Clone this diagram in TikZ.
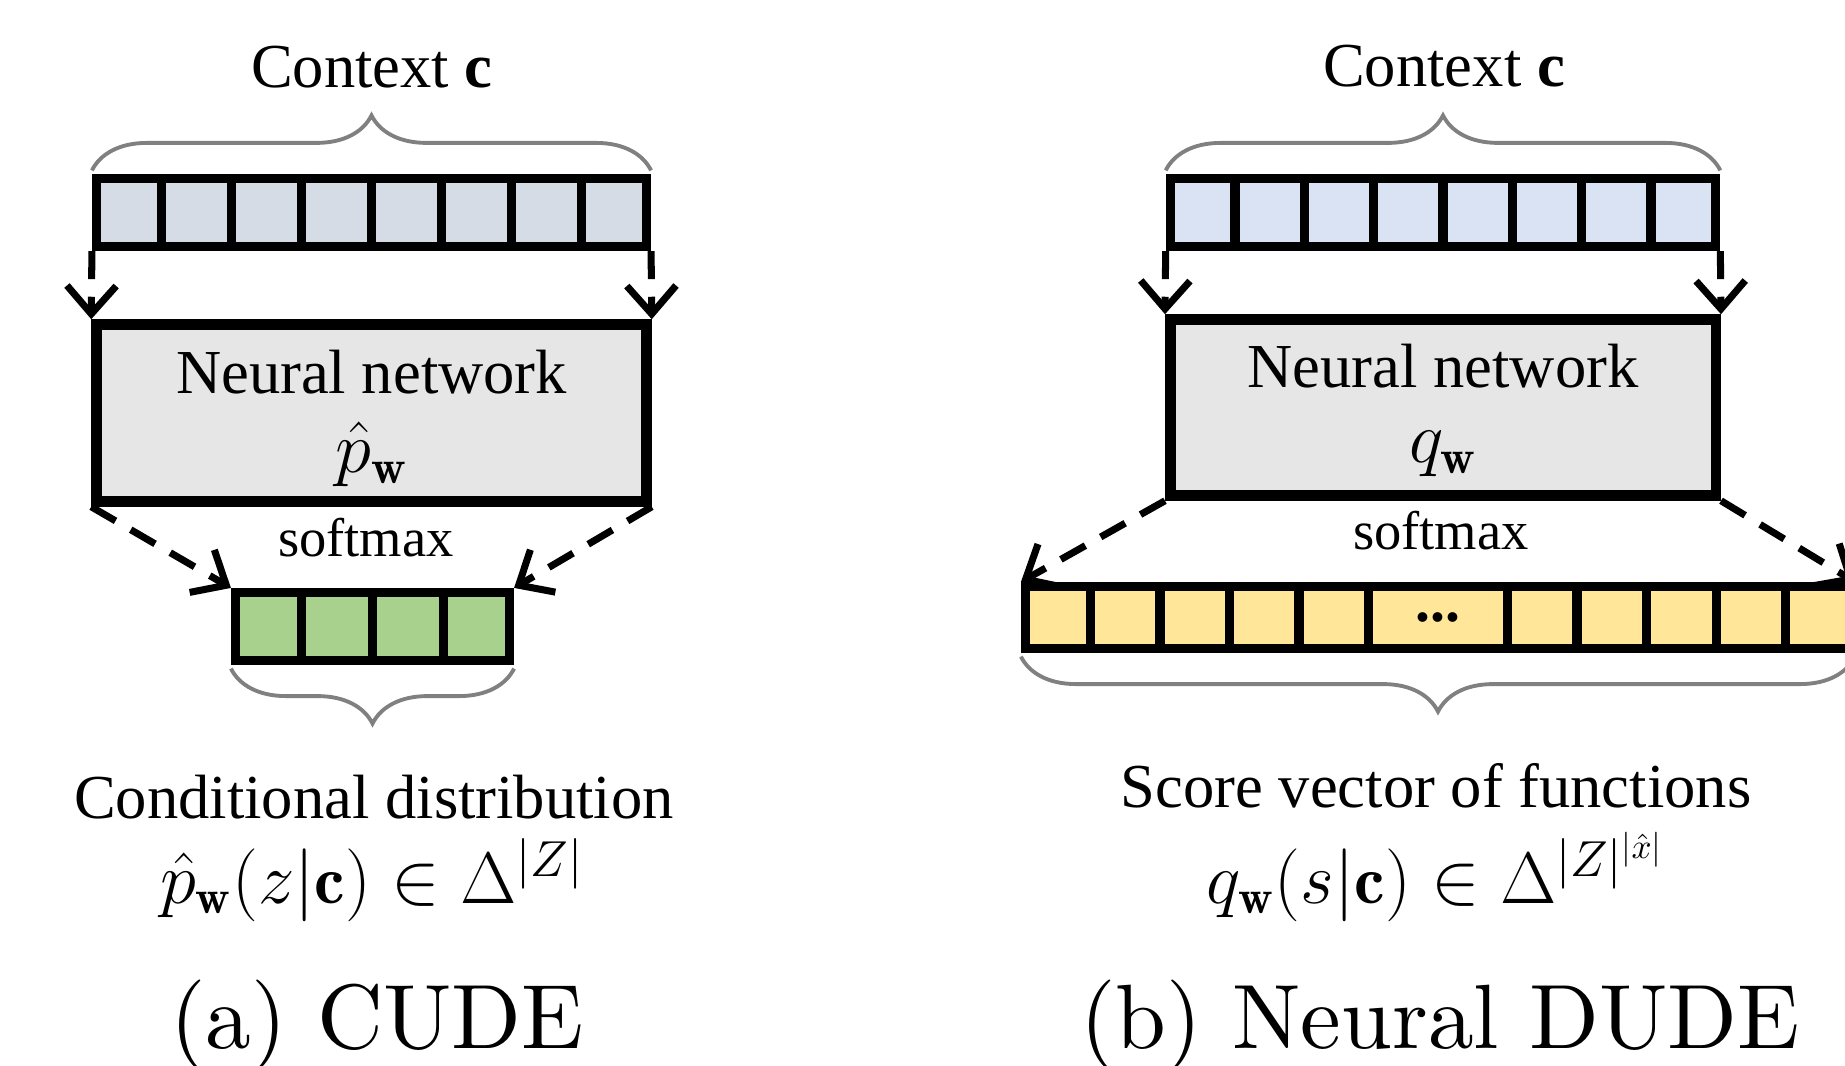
\documentclass[tikz,border=0pt]{standalone}
\usepackage{amsmath}
\usepackage{amssymb}
\usepackage{fontspec}
\newfontfamily\boxfont{Liberation Serif}
\newfontfamily\capfont{lmroman10-regular.otf}
\usepackage{tikz}
\usetikzlibrary{arrows.meta, positioning, calc, decorations.pathreplacing}
\definecolor{ctxGray}{RGB}{214, 220, 229}
\definecolor{ctxBlue}{RGB}{218, 227, 243}
\definecolor{netGray}{RGB}{230, 230, 230}
\definecolor{outGreen}{RGB}{169, 209, 142}
\definecolor{outYellow}{RGB}{255, 230, 153}
\definecolor{braceGray}{RGB}{128, 128, 128}
\tikzstyle{divider} = [line width=2.6pt]
\tikzstyle{cellrow} = [rectangle, draw=black, line width=2.6pt, inner sep=0pt]
\tikzstyle{netbox} = [rectangle, draw=black, line width=3pt, fill=netGray, inner sep=0pt]
\tikzstyle{flow} = [line width=2pt, dash pattern=on 8pt off 5pt, -{Straight Barb[length=8pt, width=14pt]}]
\tikzstyle{bracket} = [decorate, decoration={brace, amplitude=0.55cm, raise=1pt}, draw=braceGray, line width=1.1pt]
\tikzstyle{labeltext} = [font=\boxfont\fontsize{17.8}{22}\selectfont, inner sep=0pt]
\tikzstyle{smalltext} = [font=\boxfont\fontsize{15.5}{18}\selectfont, inner sep=0pt]
\tikzstyle{mathtext} = [font=\fontsize{19.5}{24}\selectfont, inner sep=0pt]
\tikzstyle{captext} = [font=\capfont\fontsize{26}{30}\selectfont, inner sep=0pt]

\begin{document}
\begin{tikzpicture}[node distance=0mm]
\useasboundingbox (0,0) rectangle (18.45,-10.66);

% (a) CUDE
\node (ctxA) [cellrow, fill=ctxGray, minimum width=5.5cm, minimum height=0.68cm] at (3.715,-2.125) {};
\foreach \i in {1,...,7}
  \draw [divider] ($(ctxA.north west)!\i/8!(ctxA.north east)$) -- ($(ctxA.south west)!\i/8!(ctxA.south east)$);
\draw [bracket] (ctxA.north west) -- (ctxA.north east);
\node (ctxTitleA) [labeltext, anchor=base] at (3.72,-0.88) {Context \textbf{c}};

\node (netA) [netbox, minimum width=5.5cm, minimum height=1.77cm] at (3.715,-4.13) {};
\node (netNameA) [labeltext, anchor=base, yshift=1.9mm] at (netA.center) {Neural network};
\node (netSymA) [mathtext, anchor=base, yshift=-6mm] at (netA.center) {$\hat{p}_{\mathbf{w}}$};

\node (outA) [cellrow, fill=outGreen, minimum width=2.74cm, minimum height=0.68cm] at (3.725,-6.265) {};
\foreach \i in {1,...,3}
  \draw [divider] ($(outA.north west)!\i/4!(outA.north east)$) -- ($(outA.south west)!\i/4!(outA.south east)$);
\draw [bracket] (outA.south east) -- (outA.south west);
\node (softA) [smalltext, anchor=base] at (3.66,-5.57) {softmax};

\draw [flow] (ctxA.south west) -- (netA.north west);
\draw [flow] (ctxA.south east) -- (netA.north east);
\draw [flow] (netA.south west) -- (outA.north west);
\draw [flow] (netA.south east) -- (outA.north east);

\node (condA) [labeltext, anchor=base] at (3.74,-8.18) {Conditional distribution};
\node (condMathA) [mathtext, anchor=base] at (3.72,-9.03) {$\hat{p}_{\mathbf{w}}(z|\mathbf{c}) \in \Delta^{|Z|}$};
\node (capA) [captext, anchor=base] at (3.77,-10.48) {(a) CUDE};

% (b) Neural DUDE
\node (ctxB) [cellrow, fill=ctxBlue, minimum width=5.455cm, minimum height=0.68cm] at (14.43,-2.125) {};
\foreach \i in {1,...,7}
  \draw [divider] ($(ctxB.north west)!\i/8!(ctxB.north east)$) -- ($(ctxB.south west)!\i/8!(ctxB.south east)$);
\draw [bracket] (ctxB.north west) -- (ctxB.north east);
\node (ctxTitleB) [labeltext, anchor=base] at (14.44,-0.87) {Context \textbf{c}};

\node (netB) [netbox, minimum width=5.455cm, minimum height=1.76cm] at (14.43,-4.075) {};
\node (netNameB) [labeltext, anchor=base, yshift=1.95mm] at (netB.center) {Neural network};
\node (netSymB) [mathtext, anchor=base, yshift=-5.5mm] at (netB.center) {$q_{\mathbf{w}}$};

\node (scoreB) [cellrow, fill=outYellow, minimum width=8.25cm, minimum height=0.62cm] at (14.38,-6.175) {};
\foreach \i in {1,2,3,4,5,7,8,9,10,11}
  \draw [divider] ($(scoreB.north west)!\i/12!(scoreB.north east)$) -- ($(scoreB.south west)!\i/12!(scoreB.south east)$);
\node (dotsB) [font=\boxfont\bfseries\fontsize{17}{20}\selectfont, inner sep=0pt] at (scoreB.center) {...};
\draw [bracket] (scoreB.south east) -- (scoreB.south west);
\node (softB) [smalltext, anchor=base] at (14.41,-5.50) {softmax};

\draw [flow] (ctxB.south west) -- (netB.north west);
\draw [flow] (ctxB.south east) -- (netB.north east);
\draw [flow] (netB.south west) -- (scoreB.north west);
\draw [flow] (netB.south east) -- (scoreB.north east);

\node (scoreTxtB) [labeltext, anchor=base] at (14.36,-8.07) {Score vector of functions};
\node (scoreMathB) [mathtext, anchor=base] at (14.36,-9.03) {$q_{\mathbf{w}}(s|\mathbf{c}) \in \Delta^{|Z|^{|\hat{x}|}}$};
\node (capB) [captext, anchor=base] at (14.40,-10.48) {(b) Neural DUDE};

\end{tikzpicture}
\end{document}
